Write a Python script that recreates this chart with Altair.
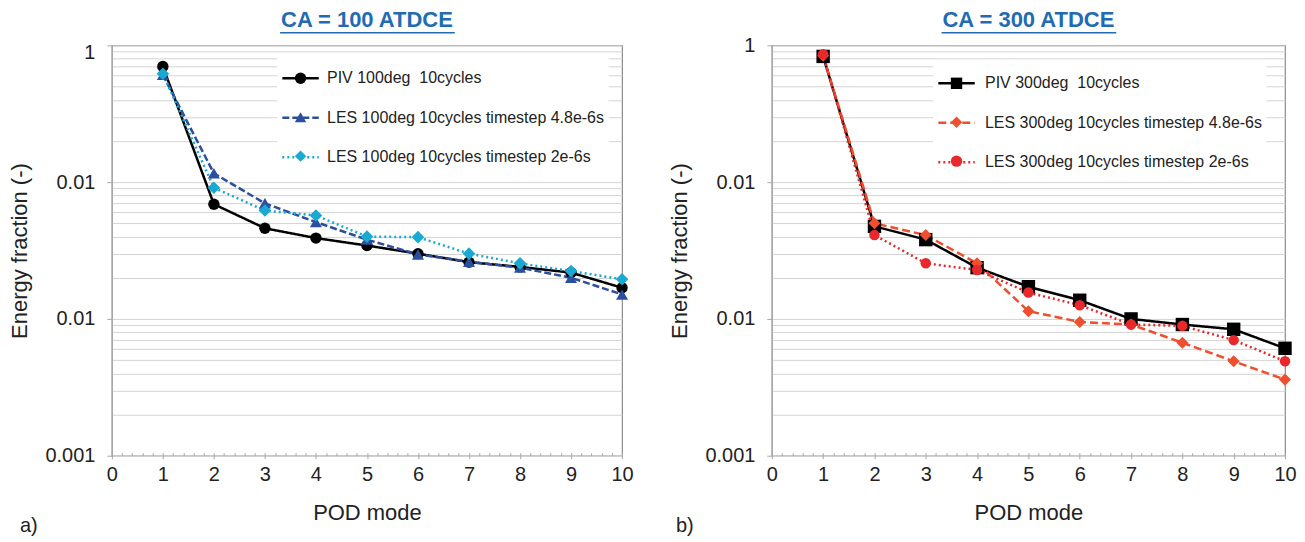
import altair as alt
import pandas as pd

FONT = "Liberation Sans"

modes = [1, 2, 3, 4, 5, 6, 7, 8, 9, 10]

names_100 = ["PIV 100deg\u00a0 10cycles",
             "LES 100deg 10cycles timestep 4.8e-6s",
             "LES 100deg 10cycles timestep 2e-6s"]
piv_100 = [0.70, 0.069, 0.046, 0.039, 0.0344, 0.030, 0.026, 0.024, 0.0218, 0.0169]
les48_100 = [0.61, 0.116, 0.070, 0.051, 0.038, 0.0296, 0.0262, 0.0237, 0.0200, 0.0151]
les2_100 = [0.62, 0.091, 0.062, 0.057, 0.040, 0.0396, 0.030, 0.0255, 0.0224, 0.0195]

names_300 = ["PIV 300deg\u00a0 10cycles",
             "LES 300deg 10cycles timestep 4.8e-6s",
             "LES 300deg 10cycles timestep 2e-6s"]
piv_300 = [0.83, 0.0475, 0.038, 0.0237, 0.0172, 0.0137, 0.0100, 0.0091, 0.0084, 0.0061]
les48_300 = [0.84, 0.050, 0.041, 0.0255, 0.0114, 0.0095, 0.0091, 0.0067, 0.0049, 0.0036]
les2_300 = [0.86, 0.041, 0.0255, 0.0228, 0.0156, 0.0126, 0.0091, 0.0089, 0.0070, 0.0049]

colors_100 = ["#000000", "#2b4f9e", "#1aa9d2"]
colors_300 = ["#000000", "#ee4f2e", "#e8282b"]
dashes_100 = [[1, 0], [7, 3], [2, 3]]
dashes_300 = [[1, 0], [8, 4], [2, 3]]
shapes_100 = ["circle", "triangle-up", "diamond"]
shapes_300 = ["square", "diamond", "circle"]
sizes_100 = [130, 160, 180]
sizes_300 = [180, 110, 210]

titles = ["CA = 100 ATDCE", "CA = 300 ATDCE"]
letters = ["a)", "b)"]

ytick_values = [0.001, 0.01, 0.1, 1]
ytick_labels = ["0.001", "0.01", "0.01", "1"]

minor_x = [round(i * 0.2, 1) for i in range(51)]
minor_y = [float(f"{k}e{e}") for e in (-3, -2, -1) for k in range(1, 10)] + [1.0]

TITLE_COLOR = "#1f6cb3"
TEXT_COLOR = "#222222"
AXIS_GRAY = "#a8a8a8"


def make_df(names, series_vals):
    rows = []
    for i, (nm, vals) in enumerate(zip(names, series_vals)):
        for m, v in zip(modes, vals):
            rows.append({"mode": m, "value": v, "series": nm, "order": i})
    return pd.DataFrame(rows)


def panel(df, names, colors, dashes, shapes, sizes, title, letter, w, h,
          legA, legB, lab_off, one_offset, letter_x):
    decade_test = "indexof([1, 0.1, 0.01, 0.001], datum.value) >= 0"
    label_expr = " : ".join(
        f"datum.value == {v} ? '{l}'" for v, l in zip(ytick_values, ytick_labels)
    ) + " : ''"

    y_axis = alt.Axis(
        values=minor_y, title="Energy fraction (-)", labelExpr=label_expr,
        grid=True, gridColor="#d4d4d4", gridWidth=1,
        domain=True, domainColor=AXIS_GRAY, domainWidth=1.2,
        ticks=True, tickSize=5, tickColor=AXIS_GRAY,
        tickOpacity={"condition": {"test": decade_test, "value": 1}, "value": 0},
        labelOffset={"condition": {"test": "datum.value == 1", "value": one_offset}, "value": 0},
        labelFont=FONT, labelFontSize=20, labelColor=TEXT_COLOR, labelPadding=12,
        labelOverlap=False, labelFlush=False,
        titleFont=FONT, titleFontSize=22, titleFontWeight="normal",
        titleColor=TEXT_COLOR, titlePadding=13,
    )
    x_axis = alt.Axis(
        values=minor_x, title="POD mode",
        labelExpr="datum.value % 1 == 0 ? format(datum.value, 'd') : ''",
        grid=False, domain=False, offset=-3,
        tickColor=AXIS_GRAY,
        tickSize={"condition": {"test": "datum.value % 1 == 0", "value": 6}, "value": 3},
        labelFont=FONT, labelFontSize=20, labelColor=TEXT_COLOR, labelPadding=6,
        labelOverlap=False, labelFlush=False,
        titleFont=FONT, titleFontSize=22, titleFontWeight="normal",
        titleColor=TEXT_COLOR, titlePadding=18,
    )

    x = alt.X("mode:Q", scale=alt.Scale(domain=[0, 10], nice=False, zero=False), axis=x_axis)
    y = alt.Y("value:Q", scale=alt.Scale(type="log", domain=[0.001, 1], nice=False), axis=y_axis)

    legend_a = alt.Legend(
        orient="none", legendX=legA[0], legendY=legA[1], title=None,
        symbolType="stroke", symbolSize=1332, symbolStrokeWidth=2.5,
        labelFont=FONT, labelFontSize=16, labelColor=TEXT_COLOR, labelOffset=lab_off,
        labelLimit=400, padding=4, fillColor="white", rowPadding=11.5,
    )
    legend_b = alt.Legend(
        orient="none", legendX=legB[0], legendY=legB[1], title=None,
        symbolSize=130, symbolStrokeWidth=0,
        labelFont=FONT, labelFontSize=16, labelExpr="''",
        labelLimit=400, padding=4, rowPadding=23,
    )

    base = alt.Chart(df)
    lines = base.mark_line(strokeWidth=2.5).encode(
        x=x, y=y,
        color=alt.Color("series:N", scale=alt.Scale(domain=names, range=colors), legend=legend_a),
        strokeDash=alt.StrokeDash("series:N", scale=alt.Scale(domain=names, range=dashes), legend=legend_a),
    )
    srt = alt.EncodingSortField(field="order", op="min")
    points = base.mark_point(filled=True, opacity=1, strokeWidth=0).encode(
        x=x, y=y,
        fill=alt.Fill("series:N", sort=srt, scale=alt.Scale(range=colors), legend=legend_b),
        shape=alt.Shape("series:N", sort=srt, scale=alt.Scale(range=shapes), legend=legend_b),
        size=alt.Size("order:O", scale=alt.Scale(domain=[0, 1, 2], range=sizes), legend=None),
    )

    deco = pd.DataFrame({"k": [0]})
    title_txt = alt.Chart(deco).mark_text(
        align="center", baseline="alphabetic", fontSize=22, fontWeight="bold",
        font=FONT, color=TITLE_COLOR
    ).encode(x=alt.value(w / 2), y=alt.value(-18), text=alt.value(title))
    underline = alt.Chart(deco).mark_rule(color=TITLE_COLOR, strokeWidth=1.5).encode(
        x=alt.value(w / 2 - 87), x2=alt.value(w / 2 + 88), y=alt.value(-12.5)
    )
    letter_txt = alt.Chart(deco).mark_text(
        align="left", baseline="middle", fontSize=20, font=FONT, color=TEXT_COLOR
    ).encode(x=alt.value(letter_x), y=alt.value(481), text=alt.value(letter))

    return alt.layer(lines, points, title_txt, underline, letter_txt).properties(
        width=w, height=h,
    )


df100 = make_df(names_100, [piv_100, les48_100, les2_100])
df300 = make_df(names_300, [piv_300, les48_300, les2_300])

left = panel(df100, names_100, colors_100, dashes_100, shapes_100, sizes_100,
             titles[0], letters[0], 511, 411,
             legA=(165.5, 9.5), legB=(177, 21), lab_off=7, one_offset=7, letter_x=-92)
right = panel(df300, names_300, colors_300, dashes_300, shapes_300, sizes_300,
              titles[1], letters[1], 514, 411,
              legA=(161.5, 14.5), legB=(173, 26), lab_off=9, one_offset=0, letter_x=-96)

chart = alt.hconcat(left, right, spacing=34).resolve_scale(
    x="independent", y="independent", color="independent", fill="independent",
    shape="independent", strokeDash="independent", size="independent",
).properties(
    padding={"left": 0, "top": 0, "right": 0, "bottom": 0}
).configure_view(stroke="#8c8c8c", strokeWidth=1.2)

chart.save("out.html", embed_options={"renderer": "svg", "actions": False})
